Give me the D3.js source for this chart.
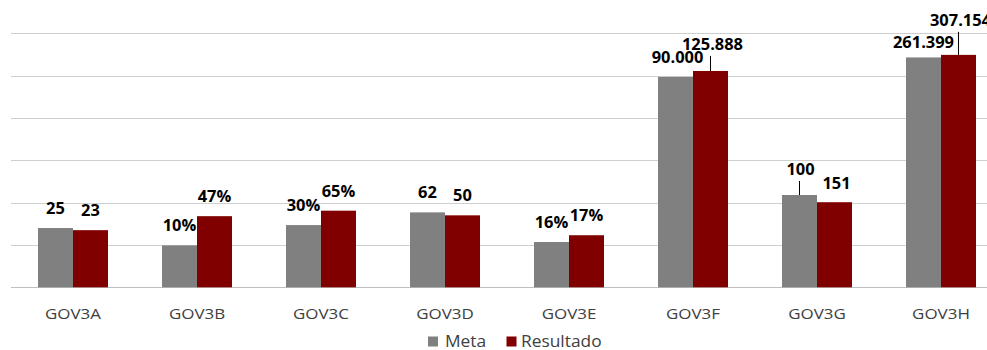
<!DOCTYPE html>
<html>
<head>
<meta charset="utf-8">
<script src="https://cdn.jsdelivr.net/npm/d3@7"></script>
<style>
  html, body { margin: 0; padding: 0; background: #fff; }
  svg { display: block; }
  text { font-family: "Open Sans", "Noto Sans", sans-serif; }
</style>
</head>
<body>
<svg id="chart" width="987" height="350"></svg>
<script>
// Indicators on the category axis
const categories = ["GOV3A", "GOV3B", "GOV3C", "GOV3D", "GOV3E", "GOV3F", "GOV3G", "GOV3H"];
const seriesNames = ["Meta", "Resultado"];

// Plotted bar heights (chart axis units; the axis itself carries no labels)
const metaBar      = [1.40, 0.99, 1.47, 1.77, 1.07, 4.97, 2.18, 5.43];
const resultadoBar = [1.35, 1.68, 1.81, 1.70, 1.23, 5.11, 2.01, 5.49];

// Data labels shown above each bar
const metaLabel      = ["25", "10%", "30%", "62", "16%", "90.000", "100", "261.399"];
const resultadoLabel = ["23", "47%", "65%", "50", "17%", "125.888", "151", "307.154"];

// Axis gridline ticks
const yTicks = [0, 1, 2, 3, 4, 5, 6];

// ---- layout ----
const W = 987, H = 350;
const plot = { left: 11, right: 1003, top: 33.3, bottom: 287.3 };
const colors = { Meta: "#808080", Resultado: "#800000" };

// extra offset for labels moved off their bar (px), with leader lines
const labelShift = {
  "Resultado-GOV3F": { dx: 2, dy: -7, leader: true },
  "Meta-GOV3F": { dx: 2, dy: 0, leader: false },
  "Meta-GOV3G": { dx: 1, dy: -6, leader: true },
  "Resultado-GOV3G": { dx: 2, dy: 1, leader: false },
  "Meta-GOV3H": { dx: 0, dy: 5, leader: false },
  "Resultado-GOV3H": { dx: 2, dy: -15, leader: true }
};

const svg = d3.select("#chart");

const x0 = d3.scaleBand()
  .domain(categories)
  .range([plot.left, plot.right])
  .paddingInner(0.4355)
  .paddingOuter(0.4355 / 2);

const x1 = d3.scaleBand()
  .domain(seriesNames)
  .range([0, x0.bandwidth()]);

const y = d3.scaleLinear()
  .domain([0, 6])
  .range([plot.bottom, plot.top]);

// gridlines
const grid = d3.axisLeft(y)
  .tickValues(yTicks)
  .tickSize(-(W - plot.left))
  .tickFormat("");
svg.append("g")
  .attr("transform", `translate(${plot.left},0)`)
  .call(grid)
  .call(g => g.select(".domain").remove())
  .call(g => g.selectAll(".tick line")
    .attr("stroke", d => d === 0 ? "#bfbfbf" : "#cfcfcf")
    .attr("stroke-width", d => d === 0 ? 1.3 : 1)
    .attr("shape-rendering", "crispEdges"));

// bars
const rows = categories.map((c, i) => ({
  cat: c,
  values: [
    { series: "Meta", v: metaBar[i], label: metaLabel[i] },
    { series: "Resultado", v: resultadoBar[i], label: resultadoLabel[i] }
  ]
}));

const groups = svg.append("g").selectAll("g")
  .data(rows)
  .join("g")
  .attr("transform", d => `translate(${x0(d.cat)},0)`);

groups.selectAll("rect")
  .data(d => d.values)
  .join("rect")
  .attr("x", d => x1(d.series))
  .attr("y", d => y(d.v))
  .attr("width", x1.bandwidth())
  .attr("height", d => y(0) - y(d.v))
  .attr("fill", d => colors[d.series]);

// data labels with optional leader lines
const labelGap = 14;
const labelStretch = 1.06;
groups.each(function (row) {
  const g = d3.select(this);
  row.values.forEach(d => {
    const key = `${d.series}-${row.cat}`;
    const s = labelShift[key] || { dx: 0, dy: 0, leader: false };
    const cx = x1(d.series) + x1.bandwidth() / 2;
    const top = y(d.v);
    const base = top - labelGap + s.dy;
    if (s.leader) {
      g.append("line")
        .attr("x1", cx).attr("x2", cx)
        .attr("y1", base + 6).attr("y2", top)
        .attr("stroke", "#000").attr("stroke-width", 1);
    }
    g.append("text")
      .attr("transform", `translate(${cx + s.dx},${base}) scale(${labelStretch},1)`)
      .attr("text-anchor", "middle")
      .attr("font-size", 15.5)
      .attr("font-weight", 700)
      .attr("fill", "#000")
      .text(d.label);
  });
});

// category labels
const axisStretch = 1.13;
svg.append("g").selectAll("text")
  .data(categories)
  .join("text")
  .attr("transform", d => `translate(${x0(d) + x0.bandwidth() / 2},318.5) scale(${axisStretch},1)`)
  .attr("text-anchor", "middle")
  .attr("font-size", 15)
  .attr("fill", "#404040")
  .text(d => d);

// legend
const legend = svg.append("g");
const legendItems = [
  { name: "Meta", sq: 428, tx: 445 },
  { name: "Resultado", sq: 506.5, tx: 521 }
];
legendItems.forEach(it => {
  legend.append("rect")
    .attr("x", it.sq).attr("y", 336.5)
    .attr("width", 10).attr("height", 10)
    .attr("fill", colors[it.name]);
  legend.append("text")
    .attr("transform", `translate(${it.tx},346.5) scale(1.12,1)`)
    .attr("font-size", 15.5)
    .attr("fill", "#404040")
    .text(it.name);
});
</script>
</body>
</html>
